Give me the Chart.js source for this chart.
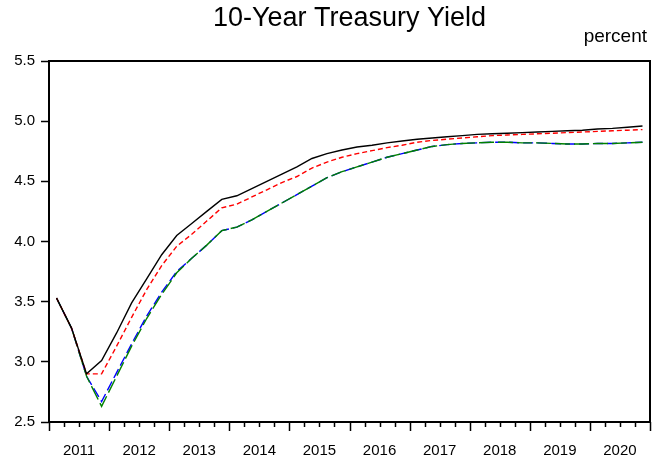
<!DOCTYPE html>
<html>
<head>
<meta charset="utf-8">
<script src="https://cdn.jsdelivr.net/npm/chart.js@4.4.1/dist/chart.umd.min.js"></script>
<style>
  html, body { margin: 0; padding: 0; background: #fff; }
  #wrap { width: 662px; height: 458px; }
</style>
</head>
<body>
<div id="wrap"><canvas id="grafico" width="662" height="458"></canvas></div>
<script>
// quarterly values, 2011Q1 .. 2020Q4
const years = ['2011','2012','2013','2014','2015','2016','2017','2018','2019','2020'];

const serieNegra = [3.53,3.28,2.90,3.01, 3.24,3.49,3.69,3.89, 4.05,4.15,4.25,4.35, 4.38,4.44,4.50,4.56,
  4.62,4.69,4.73,4.76, 4.785,4.80,4.82,4.835, 4.85,4.86,4.87,4.88, 4.89,4.895,4.90,4.905,
  4.91,4.915,4.92,4.925, 4.935,4.94,4.95,4.96];
const serieRoja = [3.53,3.28,2.90,2.90, 3.13,3.37,3.60,3.80, 3.96,4.06,4.17,4.28, 4.31,4.37,4.43,4.49,
  4.54,4.61,4.66,4.70, 4.73,4.755,4.78,4.80, 4.825,4.84,4.85,4.86, 4.87,4.88,4.885,4.89,
  4.895,4.90,4.905,4.91, 4.915,4.92,4.925,4.93];
const serieAzul = [3.53,3.28,2.88,2.67, 2.91,3.15,3.38,3.58, 3.75,3.86,3.97,4.09, 4.12,4.18,4.25,4.32,
  4.39,4.46,4.53,4.58, 4.62,4.66,4.70,4.73, 4.76,4.79,4.805,4.815, 4.82,4.825,4.825,4.82,
  4.82,4.815,4.81,4.81, 4.815,4.815,4.82,4.825];
const serieVerde = [3.53,3.28,2.88,2.63, 2.88,3.13,3.36,3.56, 3.74,3.86,3.97,4.09, 4.12,4.18,4.25,4.32,
  4.39,4.46,4.53,4.58, 4.62,4.66,4.70,4.73, 4.76,4.79,4.805,4.815, 4.82,4.825,4.825,4.82,
  4.82,4.815,4.81,4.81, 4.815,4.815,4.82,4.825];

const yTicks = [2.5, 3.0, 3.5, 4.0, 4.5, 5.0, 5.5];

const titulo = '10-Year Treasury Yield';
const unidad = 'percent';

const fuente = "Arial, 'Liberation Sans', Helvetica, sans-serif";

function puntos(arr){
  return arr.map((v, i) => ({ x: i + 0.5, y: v }));
}

// title over the plot area, frame, quarterly tick marks on the x axis
const marco = {
  id: 'marco',
  afterDraw(chart){
    const c = chart.ctx;
    const a = chart.chartArea;
    const xs = chart.scales.x;
    c.save();
    c.fillStyle = '#000';
    c.textBaseline = 'middle';
    c.textAlign = 'center';
    c.font = '27px ' + fuente;
    c.fillText(titulo, (a.left + a.right) / 2, 19);
    c.textAlign = 'right';
    c.font = '19px ' + fuente;
    c.fillText(unidad, a.right - 3, 37);

    c.strokeStyle = '#000';
    c.lineWidth = 1.5;
    for(let q = 0; q <= years.length * 4; q++){
      const px = Math.round(xs.getPixelForValue(q)) + 0.5;
      const largo = q % 4 === 0 ? 9 : 5;
      c.beginPath();
      c.moveTo(px, a.bottom);
      c.lineTo(px, a.bottom + largo);
      c.stroke();
    }
    c.lineWidth = 2;
    c.strokeRect(a.left, a.top, a.right - a.left, a.bottom - a.top);
    c.restore();
  }
};

new Chart(document.getElementById('grafico').getContext('2d'), {
  type: 'line',
  data: {
    datasets: [
      { label: 'black', data: puntos(serieNegra), borderColor: '#000000', borderWidth: 1.4 },
      { label: 'red', data: puntos(serieRoja), borderColor: '#ff0000', borderWidth: 1.4, borderDash: [5, 3] },
      { label: 'green', data: puntos(serieVerde), borderColor: '#008000', borderWidth: 1.4, borderDash: [15, 4] },
      { label: 'blue', data: puntos(serieAzul), borderColor: '#0000ff', borderWidth: 1.4, borderDash: [10, 4] }
    ]
  },
  options: {
    responsive: false,
    animation: false,
    elements: { point: { radius: 0 }, line: { tension: 0, fill: false } },
    layout: { padding: { left: 0, right: 12, top: 61, bottom: 0 } },
    plugins: {
      legend: { display: false },
      tooltip: { enabled: false },
      title: { display: false }
    },
    scales: {
      x: {
        type: 'linear',
        min: 0,
        max: years.length * 4,
        grid: { display: false },
        border: { display: false },
        afterBuildTicks: s => { s.ticks = years.map((y, k) => ({ value: k * 4 + 2 })); },
        afterFit: s => { s.height = 36; },
        ticks: {
          autoSkip: false,
          maxRotation: 0,
          padding: 12,
          color: '#000',
          font: { family: fuente, size: 15 },
          callback: v => years[(v - 2) / 4]
        }
      },
      y: {
        min: 2.5,
        max: 5.5,
        afterBuildTicks: s => { s.ticks = yTicks.map(v => ({ value: v })); },
        afterFit: s => { s.width = 49; },
        grid: { drawOnChartArea: false, tickLength: 8, tickWidth: 1.5, tickColor: '#000' },
        border: { display: false },
        ticks: {
          padding: 6,
          color: '#000',
          font: { family: fuente, size: 15 },
          callback: v => v.toFixed(1)
        }
      }
    }
  },
  plugins: [marco]
});
</script>
</body>
</html>
